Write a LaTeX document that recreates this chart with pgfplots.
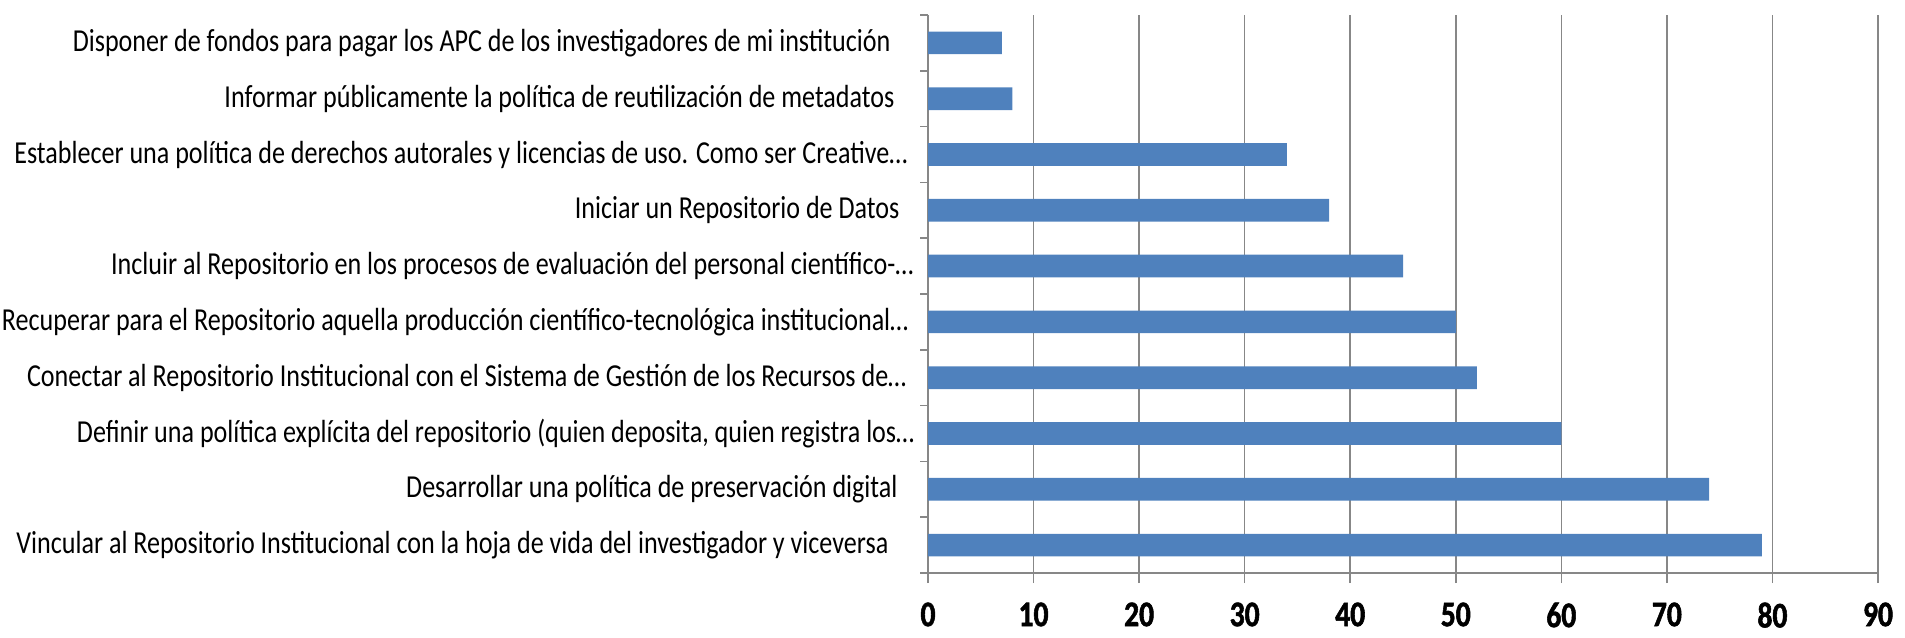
\documentclass[border=0pt]{standalone}
\usepackage{pgfplots}
\pgfplotsset{compat=1.18}
\usepackage{fontspec}
\setmainfont{Carlito}
\newfontfamily\condfont[FakeStretch=0.815]{Carlito}
\newfontfamily\condbold[FakeStretch=0.82,FakeBold=1.5]{Carlito Bold}
\definecolor{barblue}{HTML}{4F81BD}
\definecolor{gridgray}{HTML}{878787}
\begin{document}
\begin{tikzpicture}
\useasboundingbox (0,0) rectangle (1905pt,637pt);
\begin{axis}[
  at={(928pt,64pt)}, anchor=south west,
  width=950pt, height=558pt, scale only axis,
  xbar, bar width=22.7pt,
  xmin=0, xmax=90, xtick={0,10,20,30,40,50,60,70,80,90},
  ymin=-0.5, ymax=9.5,
  ytick={0,1,2,3,4,5,6,7,8,9},
  yticklabels={
    {Vincular al Repositorio Institucional con la hoja de vida del investigador y viceversa\hspace*{26pt}},
    {Desarrollar una política de preservación digital\hspace*{17pt}},
    {Definir una política explícita del repositorio (quien deposita, quien registra los\ldots},
    {Conectar al Repositorio Institucional con el Sistema de Gestión de los Recursos de\ldots\hspace*{8pt}},
    {Recuperar para el Repositorio aquella producción científico-tecnológica institucional\ldots\hspace*{6pt}},
    {Incluir al Repositorio en los procesos de evaluación del personal científico-\ldots\hspace*{1pt}},
    {Iniciar un Repositorio de Datos\hspace*{15pt}},
    {Establecer una política de derechos autorales y licencias de uso. Como ser Creative\ldots\hspace*{7pt}},
    {Informar públicamente la política de reutilización de metadatos\hspace*{20pt}},
    {Disponer de fondos para pagar los APC de los investigadores de mi institución\hspace*{24pt}}},
  minor ytick={-0.5,0.5,1.5,2.5,3.5,4.5,5.5,6.5,7.5,8.5,9.5},
  major tick length=10pt,
  minor tick length=8pt,
  tick align=outside,
  y tick style={draw=none},
  minor y tick style={draw=gridgray, line width=1.5pt},
  x tick style={draw=gridgray, line width=1.5pt},
  axis x line*=bottom, axis y line*=left,
  axis line style={draw=gridgray, line width=1.5pt, -},
  xmajorgrids, grid style={draw=gridgray, line width=1.5pt},
  yticklabel style={font=\condfont\fontsize{32}{32}\selectfont, xshift=0pt, text=black},
  xticklabel style={font=\condbold\fontsize{36}{36}\selectfont, yshift=-16pt, text=black},
  /pgf/number format/assume math mode=true,
  clip=false,
]
\addplot[fill=barblue, draw=none] coordinates {
(79,0) (74,1) (60,2) (52,3) (50,4) (45,5) (38,6) (34,7) (8,8) (7,9)};
\end{axis}
\end{tikzpicture}
\end{document}
